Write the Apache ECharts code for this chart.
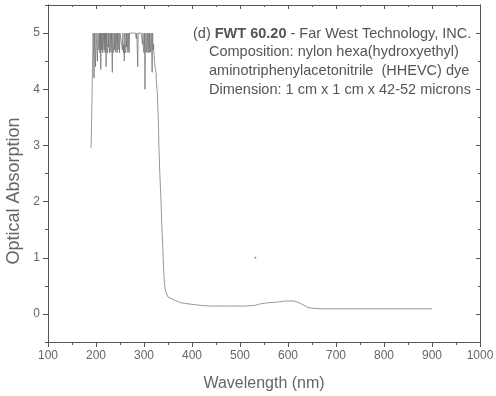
<!DOCTYPE html>
<html>
<head>
<meta charset="utf-8">
<script src="https://cdn.jsdelivr.net/npm/echarts@6/dist/echarts.min.js"></script>
<style>html,body{margin:0;padding:0;background:#fff}#c{width:496px;height:396px}</style>
</head>
<body>
<div id="c"></div>
<script>
// Wavelengths (nm) and optical absorption
const wavelengths = [
  189,190,191,192,193,194,195,196,197,198,199,200,201,202,203,204,205,206,207,208,209,210,
  211,212,213,214,215,216,217,218,219,220,221,222,223,224,225,226,227,228,229,230,
  231,232,233,234,235,236,237,238,239,240,241,242,243,244,245,246,247,248,249,250,
  251,252,253,254,255,256,257,258,259,260,261,262,263,264,265,266,267,268,269,270,
  271,272,273,274,275,276,277,278,279,280,281,282,283,284,285,286,287,288,289,290,
  291,292,293,294,295,296,297,298,299,300,301,302,303,304,305,306,307,308,309,310,
  311,312,313,314,315,316,317,318,319,320,321,322,323,324,325,326,328,330,331,333,
  335,337,339,341,342,344,346,350,360,376,400,420,439,470,507,530,543,560,578,595,
  611,620,630,640,650,670,700,750,800,850,900
];
const absorption = [
  2.95,3.0,3.5,4.0,4.5,5.0,5.0,4.2,5.0,5.0,4.4,5.0,5.0,5.0,4.5,5.0,5.0,4.7,5.0,4.65,5.0,4.35,
  5.0,4.7,5.0,4.65,4.8,5.0,4.7,5.0,4.65,5.0,4.4,5.0,4.7,4.65,5.0,4.75,5.0,4.65,4.8,5.0,
  4.66,5.0,4.7,4.3,5.0,4.65,4.75,5.0,4.7,5.0,4.66,4.8,5.0,4.65,5.0,4.7,4.7,5.0,4.65,5.0,
  5.0,5.0,5.0,5.0,4.7,5.0,4.65,4.8,4.5,5.0,4.7,4.65,5.0,4.75,5.0,4.66,4.7,5.0,4.65,5.0,
  5.0,5.0,5.0,5.0,5.0,5.0,5.0,5.0,5.0,5.0,5.0,5.0,5.0,4.9,5.0,5.0,4.4,5.0,5.0,5.0,
  5.0,5.0,5.0,5.0,5.0,5.0,4.8,5.0,4.7,4.65,5.0,4.0,4.7,5.0,4.66,4.8,5.0,4.65,4.7,5.0,
  4.65,5.0,4.75,4.66,5.0,4.7,4.3,5.0,4.7,4.8,4.6,4.5,4.4,4.35,4.3,4.1,3.9,3.4,3.0,2.5,
  2.1,1.6,1.2,0.8,0.6,0.45,0.38,0.3,0.26,0.2,0.17,0.15,0.14,0.14,0.14,0.15,0.18,0.2,0.21,0.23,
  0.23,0.21,0.17,0.12,0.1,0.09,0.09,0.09,0.09,0.09,0.09
];
// stray single point
const strayPoint = [[532, 1.0]];

const xTicks = [100,200,300,400,500,600,700,800,900,1000];
const xMinorTicks = [150,250,350,450,550,650,750,850,950];
const yTicks = [0,1,2,3,4,5];
const yMinorTicks = [-0.5,0.5,1.5,2.5,3.5,4.5,5.5];

const xName = 'Wavelength (nm)';
const yName = 'Optical Absorption';
const titleLine1a = '(d) ';
const titleBold = 'FWT 60.20';
const titleLine1b = ' - Far West Technology, INC.';
const noteLines = [
  'Composition: nylon hexa(hydroxyethyl)',
  'aminotriphenylacetonitrile  (HHEVC) dye',
  'Dimension: 1 cm x 1 cm x 42-52 microns'
];

const seriesData = wavelengths.map((w, i) => [w, absorption[i]]);
const FONT = 'Liberation Sans, Arial, sans-serif';
const AX = '#555';
const TXT = '#666';

function xAx(pos, ticks, len, inside, showLabel, showName) {
  return {
    type: 'value', position: pos, min: 100, max: 1000,
    axisLine: { show: true, onZero: false, lineStyle: { color: AX, width: 1 } },
    axisTick: { show: true, inside: inside, length: len, customValues: ticks, lineStyle: { color: AX } },
    axisLabel: { show: showLabel, customValues: ticks, color: TXT, fontFamily: FONT, fontSize: 12, margin: 8,
                 formatter: v => String(v) },
    splitLine: { show: false },
    name: showName ? xName : '',
    nameLocation: 'middle', nameGap: 34,
    nameTextStyle: { color: TXT, fontFamily: FONT, fontSize: 16 }
  };
}
function yAx(pos, ticks, len, inside, showLabel) {
  return {
    type: 'value', position: pos, min: -0.5, max: 5.5,
    axisLine: { show: true, onZero: false, lineStyle: { color: AX, width: 1 } },
    axisTick: { show: true, inside: inside, length: len, customValues: ticks, lineStyle: { color: AX } },
    axisLabel: { show: showLabel, customValues: ticks, color: TXT, fontFamily: FONT, fontSize: 12, margin: 8,
                 formatter: v => String(v) },
    splitLine: { show: false }
  };
}

const chart = echarts.init(document.getElementById('c'), null, { renderer: 'canvas' });
chart.setOption({
  animation: false,
  backgroundColor: '#fff',
  grid: { left: 48, right: 16, top: 5, bottom: 54, containLabel: false, outerBoundsMode: 'none' },
  xAxis: [
    xAx('bottom', xTicks, 5, false, true, true),
    xAx('bottom', xMinorTicks, 3, false, false, false),
    xAx('top', xTicks, 4, true, false, false),
    xAx('top', xMinorTicks, 2, true, false, false)
  ],
  yAxis: [
    yAx('left', yTicks, 5, false, true),
    yAx('left', yMinorTicks, 3, false, false),
    yAx('right', yTicks, 4, true, false),
    yAx('right', yMinorTicks, 2, true, false)
  ],
  graphic: [
    {
      type: 'text', x: 14, y: 191, rotation: Math.PI / 2,
      style: { text: yName, fill: TXT, font: '18px ' + FONT, align: 'center', verticalAlign: 'middle' }
    },
    {
      type: 'text', left: 193, top: 26,
      style: {
        text: titleLine1a + '{b|' + titleBold + '}' + titleLine1b,
        fill: '#555', font: '14.5px ' + FONT,
        rich: { b: { fontWeight: 'bold', fontSize: 14.5, fontFamily: FONT, fill: '#555' } }
      }
    }
  ].concat(noteLines.map((t, i) => ({
    type: 'text', left: 209, top: 44 + i * 19,
    style: { text: t, fill: '#555', font: '14.5px ' + FONT }
  }))),
  series: [
    {
      type: 'line', xAxisIndex: 0, yAxisIndex: 0,
      data: seriesData, showSymbol: false, smooth: false,
      lineStyle: { color: '#6a6a6a', width: 0.7 }
    },
    {
      type: 'scatter', xAxisIndex: 0, yAxisIndex: 0,
      data: strayPoint, symbolSize: 2, itemStyle: { color: '#777' }
    }
  ]
});
</script>
</body>
</html>
